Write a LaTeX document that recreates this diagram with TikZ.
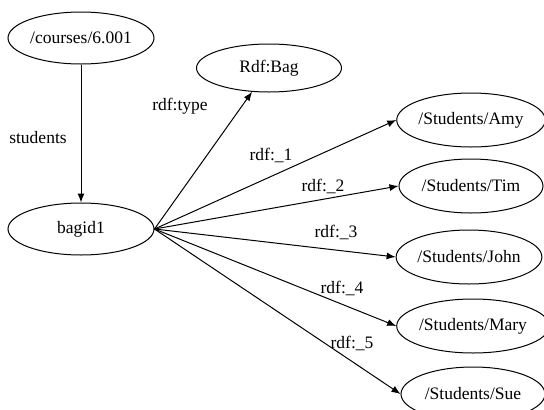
\documentclass[tikz,border=0pt]{standalone}
\usepackage{fontspec}
\setmainfont{Liberation Serif}
\usetikzlibrary{positioning,shapes.geometric,arrows.meta}

\tikzset{
    res/.style={ellipse,draw,line width=1pt,minimum width=146pt,minimum height=52pt,inner sep=0pt},
    edge/.style={line width=1pt,-{Latex[length=9pt,width=7pt]}},
    lab/.style={inner sep=0pt}
}

\begin{document}
\begin{tikzpicture}[x=1pt,y=-1pt,font=\fontsize{17.5}{21}\selectfont]
\useasboundingbox (0,0) rectangle (544,410);

\node[res] (course) at (81,38) {/courses/6.001};
\node[res] (bagid1) at (81,229) {bagid1};
\node[res,minimum width=145pt,minimum height=48pt] (bag) at (269,68) {Rdf:Bag};

\draw[edge] (course) -- (bagid1);
\node[lab] (lstudents) at (38,138) {students};

\draw[edge] (bagid1.east) -- (bag);
\node[lab] (ltype) at (180,106) {rdf:type};

\foreach \who/\i/\x/\y/\lx/\ly in {Amy/1/471/120/271/155, Tim/2/471/186/323/186, John/3/469/257/336/232, Mary/4/473/326/342/288, Sue/5/473/394/352/343} {
    \node[res,minimum width=144pt,minimum height=54pt] (\who) at (\x,\y) {/Students/\who};
    \draw[edge] (bagid1.east) -- (\who.west);
    \node[lab] (l\i) at (\lx,\ly) {rdf:\_\i};
}
\end{tikzpicture}
\end{document}
